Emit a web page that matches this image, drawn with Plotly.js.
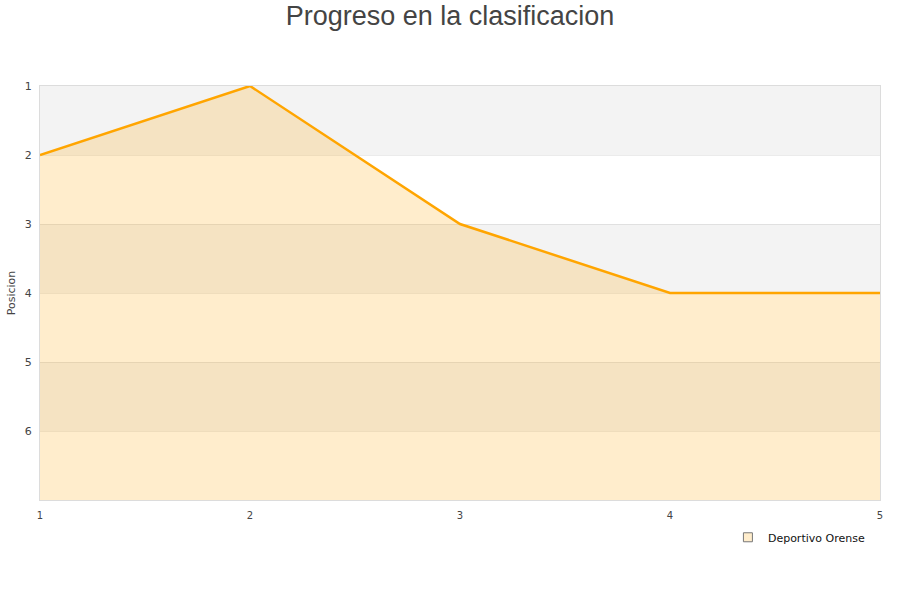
<!DOCTYPE html>
<html>
<head>
<meta charset="utf-8">
<script src="https://cdn.plot.ly/plotly-3.0.1.min.js"></script>
<style>html,body{margin:0;padding:0;background:#fff;}</style>
</head>
<body>
<div id="chart" style="width:900px;height:600px;"></div>
<script>
const jornadas = [1, 2, 3, 4, 5];
const posiciones = [2, 1, 3, 4, 4];
const teamName = "Deportivo Orense";
const chartTitle = "Progreso en la clasificacion";
const yTitle = "Posicion";
const yTicks = [1, 2, 3, 4, 5, 6];
const yMin = 1, yMax = 7;

const bands = [];
for (let p = yMin; p < yMax; p += 2) {
  bands.push({type: 'rect', xref: 'paper', yref: 'y', x0: 0, x1: 1, y0: p, y1: p + 1,
    fillcolor: '#f3f3f3', line: {width: 0}, layer: 'below'});
}

const traces = [
  {x: jornadas, y: jornadas.map(() => yMax), mode: 'lines', line: {width: 0}, hoverinfo: 'skip', showlegend: false},
  {x: jornadas, y: posiciones, mode: 'lines', fill: 'tonexty', fillcolor: 'rgba(255,165,0,0.2)',
   line: {color: '#ffa500', width: 2.5}, showlegend: false, name: teamName},
  {x: [null], y: [null], mode: 'markers', name: teamName,
   marker: {symbol: 'square', size: 9, color: 'rgba(255,165,0,0.2)', line: {color: '#777', width: 1}}}
];

const layout = {
  width: 900, height: 600,
  margin: {l: 40, r: 20, t: 86, b: 100},
  paper_bgcolor: '#fff', plot_bgcolor: 'rgba(0,0,0,0)',
  title: {text: chartTitle, x: 0.5, xanchor: 'center', y: 0.974, yanchor: 'middle',
    font: {family: 'Liberation Sans, Arial, sans-serif', size: 27, color: '#444'}},
  font: {family: 'DejaVu Sans, sans-serif', size: 11, color: '#444'},
  xaxis: {range: [1, 5], tickvals: jornadas, showgrid: false, zeroline: false,
    showline: true, linecolor: '#dcdcdc', linewidth: 1, mirror: true, ticks: '',
    ticklabelstandoff: 6, tickfont: {size: 10, color: '#444'}, fixedrange: true},
  yaxis: {range: [yMax, yMin], tickvals: yTicks, showgrid: true, gridcolor: 'rgba(0,0,0,0.08)',
    zeroline: false, showline: true, linecolor: '#dcdcdc', linewidth: 1, mirror: true, ticks: '',
    ticklabelstandoff: 5, tickfont: {size: 11, color: '#444'},
    title: {text: yTitle, standoff: 6, font: {size: 11, color: '#444'}}},
  shapes: bands,
  showlegend: true,
  legend: {x: 0.988, xanchor: 'right', y: -0.055, yanchor: 'top', bgcolor: 'rgba(0,0,0,0)',
    font: {size: 11, color: '#111'}, itemwidth: 30}
};

Plotly.newPlot('chart', traces, layout, {displayModeBar: false, staticPlot: true});
</script>
</body>
</html>
